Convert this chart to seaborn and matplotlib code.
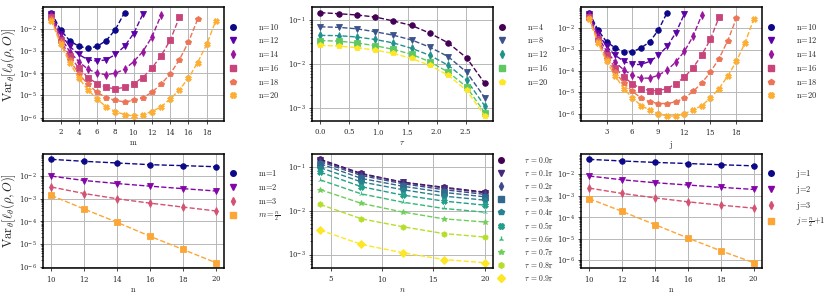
import matplotlib
matplotlib.use("Agg")
import matplotlib.pyplot as plt
import seaborn as sns
import numpy as np
from matplotlib.lines import Line2D
from matplotlib.ticker import MultipleLocator

# ---- data ----
# top left: variance vs m, one curve per n
n_top = [10, 12, 14, 16, 18, 20]
var_m = {
    10: [0.052, 8.7e-3, 2.9e-3, 1.6e-3, 1.3e-3, 1.6e-3, 2.9e-3, 9e-3, 0.052],
    12: [0.044, 6e-3, 1.6e-3, 6.9e-4, 4e-4, 3.5e-4, 4e-4, 6.9e-4, 1.6e-3, 6e-3, 0.044],
    14: [0.04, 4.2e-3, 9.3e-4, 3.3e-4, 1.5e-4, 1e-4, 8.6e-5, 1e-4, 1.5e-4, 3.3e-4,
         9.3e-4, 4.2e-3, 0.04],
    16: [0.032, 3e-3, 6e-4, 1.7e-4, 6.4e-5, 3.4e-5, 2.3e-5, 2.0e-5, 2.3e-5, 3.4e-5,
         6.4e-5, 1.7e-4, 6e-4, 3e-3, 0.032],
    18: [0.026, 2.5e-3, 4e-4, 9.3e-5, 3.2e-5, 1.4e-5, 7.9e-6, 6e-6, 5.2e-6, 6e-6,
         7.9e-6, 1.4e-5, 3.2e-5, 9.3e-5, 4e-4, 2.5e-3, 0.026],
    20: [0.023, 2e-3, 3e-4, 6e-5, 1.8e-5, 6.9e-6, 3.1e-6, 1.9e-6, 1.4e-6, 1.2e-6,
         1.4e-6, 1.9e-6, 3.1e-6, 6.9e-6, 1.8e-5, 6e-5, 3e-4, 2e-3, 0.023],
}

# top right: variance vs j, one curve per n
var_j = {
    10: [0.053, 8.3e-3, 2.3e-3, 1.2e-3, 7.9e-4, 7.9e-4, 1.2e-3, 2.3e-3, 8.3e-3, 0.053],
    12: [0.047, 6e-3, 1.4e-3, 5.4e-4, 2.8e-4, 2e-4, 2e-4, 2.8e-4, 5.4e-4, 1.4e-3, 6e-3, 0.047],
    14: [0.041, 4.2e-3, 8.3e-4, 2.6e-4, 1.1e-4, 6.3e-5, 4.6e-5, 4.6e-5, 6.3e-5, 1.1e-4,
         2.6e-4, 8.3e-4, 4.2e-3, 0.041],
    16: [0.033, 3e-3, 5.6e-4, 1.4e-4, 5.2e-5, 2.5e-5, 1.5e-5, 1.2e-5, 1.2e-5, 1.5e-5,
         2.5e-5, 5.2e-5, 1.4e-4, 5.6e-4, 3e-3, 0.033],
    18: [0.029, 2.6e-3, 3.8e-4, 8.9e-5, 2.7e-5, 1.1e-5, 5.4e-6, 3.6e-6, 3e-6, 3e-6,
         3.6e-6, 5.4e-6, 1.1e-5, 2.7e-5, 8.9e-5, 3.8e-4, 2.6e-3, 0.029],
    20: [0.026, 2.1e-3, 2.8e-4, 5.8e-5, 1.5e-5, 5.4e-6, 2.4e-6, 1.5e-6, 1e-6, 7.8e-7,
         7.8e-7, 1e-6, 1.5e-6, 2.4e-6, 5.4e-6, 1.5e-5, 5.8e-5, 2.8e-4, 2.1e-3, 0.026],
}

# middle panels: tau sweep (rows = n, columns = tau/pi)
n_tau = [4, 8, 12, 16, 20]
tau_frac = [0.0, 0.1, 0.2, 0.3, 0.4, 0.5, 0.6, 0.7, 0.8, 0.9]
var_tau = [
    [0.147, 0.139, 0.13, 0.117, 0.095, 0.075, 0.05, 0.030, 0.0138, 3.6e-3],
    [0.070, 0.068, 0.063, 0.054, 0.045, 0.035, 0.024, 0.0146, 6.5e-3, 1.7e-3],
    [0.0446, 0.044, 0.041, 0.036, 0.030, 0.0226, 0.0156, 9.3e-3, 4.3e-3, 1.1e-3],
    [0.034, 0.033, 0.030, 0.026, 0.0214, 0.0165, 0.0112, 6.5e-3, 3.0e-3, 7.7e-4],
    [0.0264, 0.0255, 0.0234, 0.0206, 0.0173, 0.0133, 9.2e-3, 5.5e-3, 2.5e-3, 6.5e-4],
]

# bottom left / right: variance vs n
n_bot = [10, 12, 14, 16, 18, 20]
var_m1 = [0.055, 0.045, 0.038, 0.032, 0.029, 0.026]
var_m2 = [0.01, 6.4e-3, 4.7e-3, 3.6e-3, 2.8e-3, 2.2e-3]
var_m3 = [3.3e-3, 1.7e-3, 1.0e-3, 6.4e-4, 4.3e-4, 2.9e-4]
var_mhalf = [1.4e-3, 3.5e-4, 9.1e-5, 2.2e-5, 5.8e-6, 1.5e-6]

var_j1 = [0.05, 0.042, 0.036, 0.032, 0.028, 0.025]
var_j2 = [8.4e-3, 5.6e-3, 4.1e-3, 3.2e-3, 2.5e-3, 2.0e-3]
var_j3 = [2.3e-3, 1.3e-3, 8.1e-4, 5.3e-4, 3.7e-4, 2.7e-4]
var_jhalf = [7.4e-4, 1.9e-4, 4.6e-5, 1.1e-5, 2.8e-6, 7.8e-7]

# ---- style ----
sns.set_style("ticks")
plt.rcParams["font.family"] = ["DejaVu Serif"]
plt.rcParams["mathtext.fontset"] = "cm"
plt.rcParams["axes.formatter.use_mathtext"] = True
plt.rcParams["axes.linewidth"] = 1.1

markers = ["o", "v", "d", "s", "p", "X", "2", "*", "h", "D"]
YLAB = r"$\mathrm{Var}_{\theta}[\ell_{\theta}(\rho, O)]$"


def draw(ax, series, colors, labels, ms=4.0, leg_y=0.92, leg_fs=6):
    handles = []
    for k, (x, y) in enumerate(series):
        mk = markers[k]
        sns.lineplot(x=x, y=y, ax=ax, color=colors[k], marker=mk, linestyle="--",
                     linewidth=1.0, markersize=ms, markeredgewidth=0.6,
                     markeredgecolor=colors[k], legend=False)
        handles.append(Line2D([], [], color=colors[k], marker=mk, linestyle="none",
                              markersize=ms, markeredgecolor=colors[k]))
    ax.set_yscale("log")
    ax.grid(True, which="major", color="#b8b8b8", linewidth=0.7)
    ax.tick_params(labelsize=5, length=2.5, width=0.6, pad=2)
    ax.tick_params(which="minor", length=1.5, width=0.5)
    ax.legend(handles, labels, loc="upper left", bbox_to_anchor=(1.0, leg_y),
              frameon=False, fontsize=leg_fs, handlelength=1.0, handletextpad=2.5,
              labelspacing=0.45, borderaxespad=0.2)
    for s in ax.spines.values():
        s.set_color("black")


fig, axes = plt.subplots(2, 3, figsize=(8.3, 2.99), dpi=100)
fig.subplots_adjust(left=0.052, right=0.918, bottom=0.104, top=0.975,
                    wspace=0.486, hspace=0.29)

plasma6 = [plt.cm.plasma(v) for v in np.linspace(0, 0.82, 6)]
plasma4 = [plt.cm.plasma(v) for v in np.linspace(0, 0.8, 4)]
viridis5 = [plt.cm.viridis(v) for v in np.linspace(0, 1, 5)]
viridis10 = [plt.cm.viridis(v) for v in np.linspace(0, 1, 10)]
tau = [f * np.pi for f in tau_frac]


def eq(a, b):
    return r"$\mathrm{%s\!=\!%s}$" % (a, b)


# top left
ax = axes[0, 0]
draw(ax, [(list(range(1, n)), var_m[n]) for n in n_top], plasma6,
     [eq("n", n) for n in n_top])
ax.xaxis.set_major_locator(MultipleLocator(2))
ax.set_xlabel(r"$\mathrm{m}$", fontsize=6, labelpad=1)
ax.set_ylabel(YLAB, fontsize=9, labelpad=1)

# top middle
ax = axes[0, 1]
draw(ax, [(tau, var_tau[i]) for i in range(len(n_tau))], viridis5,
     [eq("n", n) for n in n_tau])
ax.xaxis.set_major_locator(MultipleLocator(0.5))
ax.set_xlabel(r"$\tau$", fontsize=6, labelpad=1)

# top right
ax = axes[0, 2]
draw(ax, [(list(range(1, n + 1)), var_j[n]) for n in n_top], plasma6,
     [eq("n", n) for n in n_top])
ax.xaxis.set_major_locator(MultipleLocator(3))
ax.set_xlabel(r"$\mathrm{j}$", fontsize=6, labelpad=1)

# bottom left
ax = axes[1, 0]
draw(ax, [(n_bot, var_m1), (n_bot, var_m2), (n_bot, var_m3), (n_bot, var_mhalf)],
     plasma4, [eq("m", 1), eq("m", 2), eq("m", 3), r"$m=\frac{n}{2}$"])
ax.xaxis.set_major_locator(MultipleLocator(2))
ax.set_xlabel(r"$\mathrm{n}$", fontsize=6, labelpad=1)
ax.set_ylabel(YLAB, fontsize=9, labelpad=1)

# bottom middle
ax = axes[1, 1]
draw(ax, [(n_tau, [row[k] for row in var_tau]) for k in range(len(tau_frac))],
     viridis10, [r"$\tau\ {=}%.1f\pi$" % f for f in tau_frac],
     leg_y=1.03, leg_fs=5.5)
ax.xaxis.set_major_locator(MultipleLocator(5))
ax.set_xlabel(r"$n$", fontsize=6, labelpad=1)

# bottom right
ax = axes[1, 2]
draw(ax, [(n_bot, var_j1), (n_bot, var_j2), (n_bot, var_j3), (n_bot, var_jhalf)],
     plasma4, [eq("j", 1), eq("j", 2), eq("j", 3), r"$j=\frac{n}{2}{+}1$"])
ax.xaxis.set_major_locator(MultipleLocator(2))
ax.set_xlabel(r"$\mathrm{n}$", fontsize=6, labelpad=1)

fig.savefig("out.png", dpi=100)
